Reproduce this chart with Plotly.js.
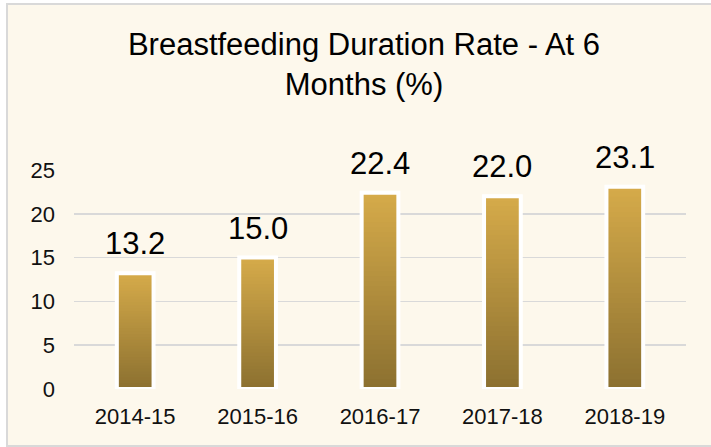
<!DOCTYPE html>
<html>
<head>
<meta charset="utf-8">
<script src="https://cdn.plot.ly/plotly-3.0.1.min.js"></script>
<style>
  html, body { margin: 0; padding: 0; background: #ffffff; width: 711px; height: 447px; overflow: hidden; }
  #frame { position: absolute; left: 6px; top: 3px; border-left: 2px solid #d9d9d9; border-top: 2px solid #d9d9d9; border-bottom: 2px solid #d9d9d9; width: 712px; height: 440px; }
  #chart { width: 712px; height: 440px; }
</style>
</head>
<body>
<div id="frame"><div id="chart"></div></div>
<script>
// ---- data ----
const categories = ["2014-15", "2015-16", "2016-17", "2017-18", "2018-19"];
const rates = [13.2, 15.0, 22.4, 22.0, 23.1];
const yTickValues = [0, 5, 10, 15, 20, 25];
const titleText = "Breastfeeding Duration Rate - At 6<br>Months (%)";

// ---- styling ----
const FONT = '"Liberation Sans", Arial, sans-serif';
const bottomColor = [139, 112, 48];
const topColor = [214, 171, 74];
const BAR_W = 0.3;
const N = 40;

function mix(t) {
  const c = bottomColor.map((b, i) => Math.round(b + (topColor[i] - b) * t));
  return `rgb(${c[0]},${c[1]},${c[2]})`;
}

const traces = [];
for (let k = 0; k < N; k++) {
  traces.push({
    type: 'bar',
    x: categories,
    base: rates.map(v => v * k / N),
    y: rates.map(v => v * (1 / N + (k < N - 1 ? 0.03 : 0))),
    width: BAR_W,
    marker: { color: mix((k + 0.5) / N), line: { width: 0 } },
    hoverinfo: 'skip',
    showlegend: false
  });
}
// outline trace
traces.push({
  type: 'bar',
  x: categories,
  y: rates,
  width: BAR_W,
  marker: { color: 'rgba(0,0,0,0)', line: { color: '#ffffff', width: 4 } },
  hoverinfo: 'skip',
  showlegend: false
});

const annotations = categories.map((c, i) => ({
  x: c, y: rates[i], xref: 'x', yref: 'y',
  text: rates[i].toFixed(1),
  showarrow: false, yanchor: 'bottom', yshift: 10,
  font: { family: FONT, size: 31, color: '#000000' }
}));

const layout = {
  width: 712, height: 440,
  paper_bgcolor: '#fdf8ec',
  plot_bgcolor: '#fdf8ec',
  margin: { l: 66, r: 34, t: 165, b: 56 },
  barmode: 'overlay',
  showlegend: false,
  title: {
    text: titleText,
    x: 0.5, xref: 'container', xanchor: 'center',
    y: 0.887, yref: 'container', yanchor: 'top',
    font: { family: FONT, size: 31, color: '#000000' }
  },
  xaxis: {
    type: 'category',
    showgrid: false, zeroline: false, showline: false,
    ticks: '', ticklabelstandoff: 12,
    tickfont: { family: FONT, size: 22, color: '#111111' }
  },
  yaxis: {
    range: [0, 25],
    tickvals: yTickValues,
    showgrid: true, gridcolor: '#d9d9d9', gridwidth: 1.5,
    zeroline: false, showline: false,
    ticks: '', ticklabelstandoff: 18,
    tickfont: { family: FONT, size: 22, color: '#111111' }
  },
  annotations: annotations
};

Plotly.newPlot('chart', traces, layout, { staticPlot: true, displayModeBar: false });
</script>
</body>
</html>
